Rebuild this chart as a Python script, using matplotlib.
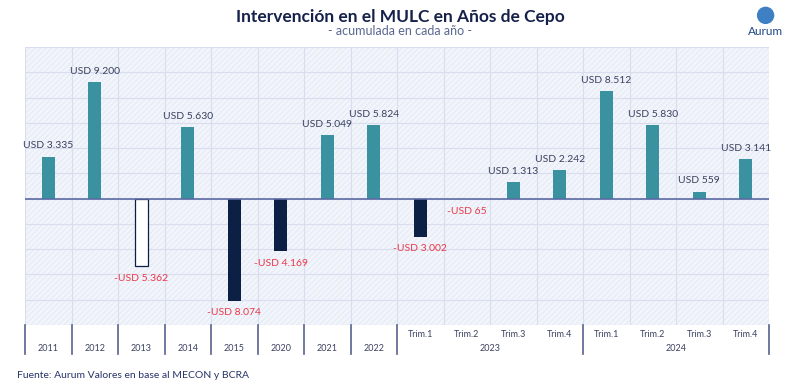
import numpy as np
import matplotlib.pyplot as plt
from matplotlib.transforms import blended_transform_factory
from matplotlib.patches import Ellipse

periodos = ["2011", "2012", "2013", "2014", "2015", "2020", "2021", "2022",
            "Trim.1", "Trim.2", "Trim.3", "Trim.4",
            "Trim.1", "Trim.2", "Trim.3", "Trim.4"]
valores = [3335, 9200, -5362, 5630, -8074, -4169, 5049, 5824,
           -3002, -65, 1313, 2242,
           8512, 5830, 559, 3141]
grupos = [("2023", 8, 12), ("2024", 12, 16)]

teal = "#3a91a0"
navy = "#0c1f45"
red = "#e8384a"
gris = "#3b4160"
fuente = "Lato"


def etiqueta(v):
    s = f"{abs(v):,}".replace(",", ".")
    return ("-USD " if v < 0 else "USD ") + s


fig = plt.figure(figsize=(8, 3.84), dpi=100)
ax = fig.add_axes([0.03125, 0.1536, 0.93, 0.724])
ax.set_facecolor("#f2f5fb")
ax.add_patch(plt.Rectangle((0, 0), 1, 1, transform=ax.transAxes,
                           facecolor="none", edgecolor="#e8ecf5",
                           hatch="//////", lw=0, zorder=0))

for i, v in enumerate(valores):
    if i == 2:
        ax.bar(i, v, width=0.27, color="white", edgecolor=navy, lw=0.9, zorder=3)
    else:
        ax.bar(i, v, width=0.27, color=teal if v > 0 else navy, zorder=3)
    if v > 0:
        ax.text(i, v + 500, etiqueta(v), ha="center", va="bottom",
                fontsize=7.5, color=gris, family=fuente)
    else:
        ax.text(i, v - 600, etiqueta(v), ha="center", va="top",
                fontsize=7.5, color=red, family=fuente)

ax.set_xlim(-0.5, len(valores) - 0.5)
ax.set_ylim(-10000, 12000)
ax.set_yticks(np.arange(-10000, 12001, 2000))
ax.set_xticks(np.arange(-0.5, len(valores), 1))
ax.grid(True, color="#d9deef", lw=0.8, zorder=1)
ax.tick_params(length=0, labelleft=False, labelbottom=False)
for s in ax.spines.values():
    s.set_visible(False)
ax.axhline(0, color="#5b6aa3", lw=1.2, zorder=4)

# eje de categorias
tr = blended_transform_factory(ax.transData, ax.transAxes)
sep = list(np.arange(-0.5, 8.5, 1)) + [11.5, 15.5]
for s in sep:
    ax.plot([s, s], [0, -0.105], transform=tr, color="#56628f", lw=1.2,
            clip_on=False)
for i, p in enumerate(periodos):
    yy = -0.085 if i < 8 else -0.033
    ax.text(i, yy, p, transform=tr, ha="center", va="center",
            fontsize=6.5, color=gris, family=fuente)
for nombre, a, b in grupos:
    ax.text((a + b - 1) / 2, -0.085, nombre, transform=tr, ha="center",
            va="center", fontsize=6.5, color=gris, family=fuente)

fig.text(0.5, 0.957, "Intervención en el MULC en Años de Cepo", ha="center",
         va="center", fontsize=12.5, color="#15214a", family=fuente,
         weight="bold")
fig.text(0.5, 0.918, "- acumulada en cada año -", ha="center", va="center",
         fontsize=9, color="#5a6790", family=fuente)
fig.text(0.021, 0.021, "Fuente: Aurum Valores en base al MECON y BCRA",
         ha="left", va="center", fontsize=7.5, color="#27346a", family=fuente)

# logo
fig.patches.append(Ellipse((0.957, 0.96), 0.02, 0.02 * 800 / 384,
                           transform=fig.transFigure, color="#3f7fc4"))
fig.text(0.957, 0.918, "Aurum", ha="center", va="center", fontsize=8.5,
         color="#20488a", family=fuente)

fig.savefig("out.png", dpi=100)
